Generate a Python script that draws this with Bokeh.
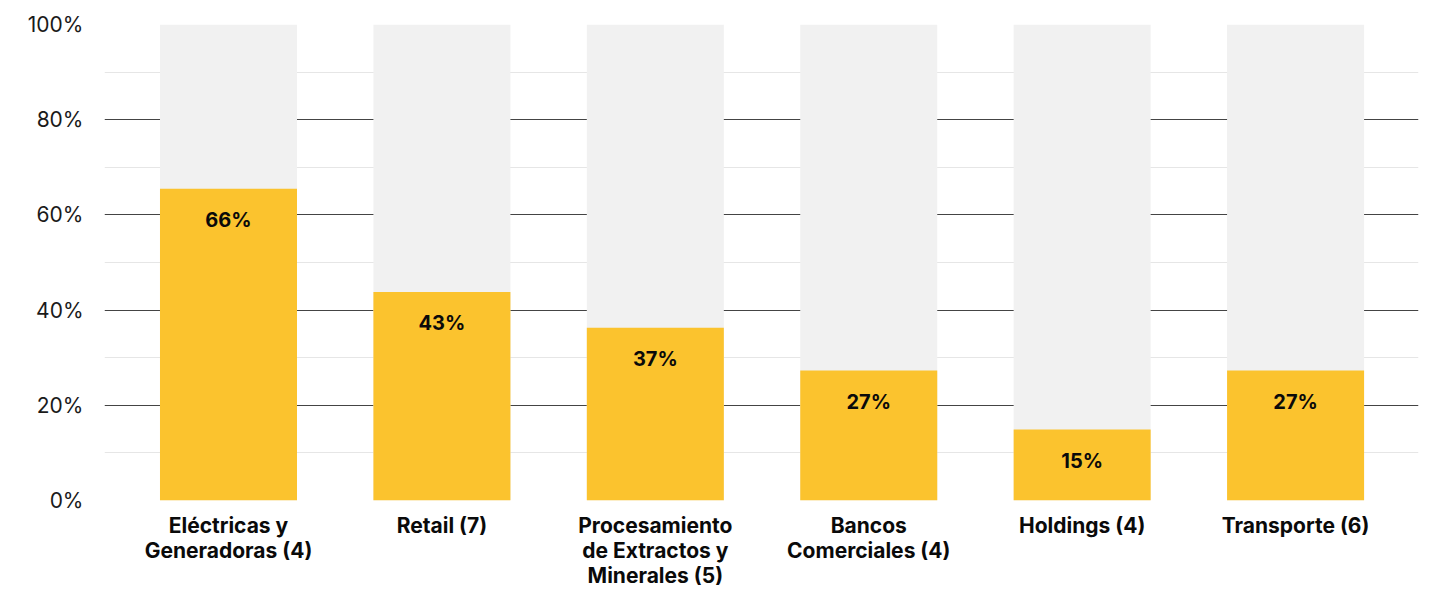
from bokeh.plotting import figure
from bokeh.models import Range1d, FixedTicker, ColumnDataSource
from bokeh.core.properties import value
from bokeh.embed import file_html
from bokeh.resources import INLINE

categories = ["Eléctricas y\nGeneradoras (4)", "Retail (7)",
              "Procesamiento\nde Extractos y\nMinerales (5)",
              "Bancos\nComerciales (4)", "Holdings (4)", "Transporte (6)"]
values = [65.5, 43.8, 36.3, 27.3, 14.9, 27.3]
labels = ["66%", "43%", "37%", "27%", "15%", "27%"]
full = [100, 100, 100, 100, 100, 100]
y_ticks = [0, 20, 40, 60, 80, 100]
y_minor = [10, 30, 50, 70, 90]

FONT = "Inter"
xs = list(range(len(categories)))
src = ColumnDataSource(dict(x=xs, v=values, full=full, lab=labels))

p = figure(width=1430, height=590, output_backend="svg", toolbar_location=None,
           x_range=Range1d(-0.581, 5.576), y_range=Range1d(0, 100))
p.min_border_left = 104
p.min_border_right = 12
p.min_border_top = 24
p.min_border_bottom = 89
p.outline_line_color = None
p.background_fill_color = "white"
p.border_fill_color = "white"

# grid
p.xgrid.visible = False
p.ygrid.ticker = FixedTicker(ticks=y_ticks, minor_ticks=y_minor)
p.ygrid.grid_line_color = "#444444"
p.ygrid.grid_line_width = 1
p.ygrid.minor_grid_line_color = "#e6e6e6"
p.ygrid.minor_grid_line_width = 1

p.vbar(x="x", top="full", bottom=0, width=0.642, source=src,
       fill_color="#f1f1f1", line_color=None)
p.vbar(x="x", top="v", bottom=0, width=0.642, source=src,
       fill_color="#fbc32e", line_color=None)
p.text(x="x", y="v", text="lab", source=src, text_align="center",
       text_baseline="middle", y_offset=31, text_font=value(FONT),
       text_font_style="bold", text_font_size="20px", text_color="#0a0a0a")

# axes
p.yaxis.ticker = FixedTicker(ticks=y_ticks)
p.yaxis.major_label_overrides = {t: f"{t}%" for t in y_ticks}
p.yaxis.axis_line_color = None
p.yaxis.major_tick_line_color = None
p.yaxis.minor_tick_line_color = None
p.yaxis.major_tick_out = 0
p.yaxis.major_label_standoff = 21
p.yaxis.major_label_text_font = FONT
p.yaxis.major_label_text_font_size = "21px"
p.yaxis.major_label_text_color = "#1a1a1a"

p.xaxis.ticker = FixedTicker(ticks=xs)
p.xaxis.major_label_overrides = {i: c for i, c in enumerate(categories)}
p.xaxis.axis_line_color = None
p.xaxis.major_tick_line_color = None
p.xaxis.minor_tick_line_color = None
p.xaxis.major_tick_out = 0
p.xaxis.major_label_standoff = 12
p.xaxis.major_label_text_font = FONT
p.xaxis.major_label_text_font_style = "bold"
p.xaxis.major_label_text_font_size = "21px"
p.xaxis.major_label_text_line_height = 1.0
p.xaxis.major_label_text_color = "#0a0a0a"

open("out.html", "w").write(file_html(p, INLINE))
